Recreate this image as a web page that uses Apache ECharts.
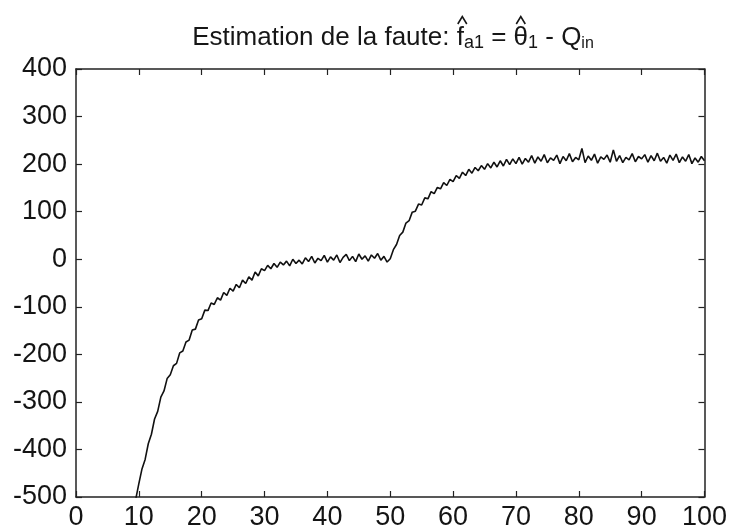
<!DOCTYPE html>
<html>
<head>
<meta charset="utf-8">
<script src="https://cdn.jsdelivr.net/npm/echarts@6/dist/echarts.min.js"></script>
<style>
  html, body { margin: 0; padding: 0; background: #ffffff; }
  #chart { width: 730px; height: 531px; }
</style>
</head>
<body>
<div id="chart"></div>
<script>
// ---- data ----
const xValues = [
  9.5,10,10.5,11,11.5,12,12.5,13,13.5,14,14.5,15,15.5,16,16.5,17,17.5,18,18.5,19,19.5,
  20,20.5,21,21.5,22,22.5,23,23.5,24,24.5,25,25.5,26,26.5,27,27.5,28,28.5,29,29.5,
  30,30.5,31,31.5,32,32.5,33,33.5,34,34.5,35,35.5,36,36.5,37,37.5,38,38.5,39,39.5,
  40,40.5,41,41.5,42,42.5,43,43.5,44,44.5,45,45.5,46,46.5,47,47.5,48,48.5,49,49.5,
  50,50.5,51,51.5,52,52.5,53,53.5,54,54.5,55,55.5,56,56.5,57,57.5,58,58.5,59,59.5,
  60,60.5,61,61.5,62,62.5,63,63.5,64,64.5,65,65.5,66,66.5,67,67.5,68,68.5,69,69.5,
  70,70.5,71,71.5,72,72.5,73,73.5,74,74.5,75,75.5,76,76.5,77,77.5,78,78.5,79,79.5,
  80,80.5,81,81.5,82,82.5,83,83.5,84,84.5,85,85.5,86,86.5,87,87.5,88,88.5,89,89.5,
  90,90.5,91,91.5,92,92.5,93,93.5,94,94.5,95,95.5,96,96.5,97,97.5,98,98.5,99,99.5,100
];
const faultEstimate = [
  -505,-472,-441,-421,-388,-368,-336,-320,-290,-277,-251,-243,-224,-219,-197,-193,-174,-170,-149,-147,-128,
  -125,-107,-108,-92,-95,-81,-86,-70,-76,-61,-67,-53,-60,-44,-51,-37,-44,-27,-35,-20,
  -24,-13,-20,-9,-17,-6,-12,-4,-14,0,-9,-2,-10,3,-5,6,-8,2,-3,8,
  -6,5,-2,9,-7,4,10,-3,6,-5,11,0,7,-4,9,2,12,-2,6,-6,
  1,20,31,50,57,76,81,99,101,116,114,129,127,142,138,151,148,161,155,168,
  163,176,170,183,176,189,181,193,186,197,189,201,192,204,194,207,196,210,199,211,
  201,214,200,212,204,218,202,215,206,220,203,213,208,219,201,216,207,222,205,214,
  209,233,203,217,208,221,202,215,210,219,204,230,206,218,203,214,209,222,205,216,
  211,220,204,218,207,223,206,214,202,219,208,221,203,215,206,220,201,213,204,216,207
];
const xTicks = { min: 0, max: 100, step: 10 };
const yTicks = { min: -500, max: 400, step: 100 };

// ---- title pieces (text) ----
const titlePieces = [
  { text: 'Estimation de la faute: ', size: 26 },
  { text: 'f', size: 26, hat: true },
  { text: 'a1', size: 18, sub: true },
  { text: ' = ', size: 26 },
  { text: 'θ', size: 26, hat: true },
  { text: '1', size: 18, sub: true },
  { text: ' - Q', size: 26 },
  { text: 'in', size: 16, sub: true }
];

const FONT = '"Liberation Sans", Arial, sans-serif';
const chart = echarts.init(document.getElementById('chart'), null, { renderer: 'canvas' });

// measure title pieces to lay them out in one line
const ctx = document.createElement('canvas').getContext('2d');
function w(p) { ctx.font = p.size + 'px ' + FONT; return ctx.measureText(p.text).width; }
const widths = titlePieces.map(w);
const total = widths.reduce((a, b) => a + b, 0);
const titleCenter = 393, baseline = 47;
let cx = titleCenter - total / 2;
const graphics = [];
titlePieces.forEach((p, i) => {
  const bl = p.sub ? baseline + 2 : baseline;
  graphics.push({
    type: 'text', silent: true,
    style: {
      text: p.text, x: cx, y: bl - 0.3465 * p.size,
      font: p.size + 'px ' + FONT, fill: '#161616',
      textAlign: 'left', textVerticalAlign: 'middle'
    }
  });
  if (p.hat) {
    const hc = cx + widths[i] / 2 + (p.text === 'f' ? 2 : 0);
    graphics.push({
      type: 'polyline', silent: true,
      shape: { points: [[hc - 4.5, 24], [hc, 16.5], [hc + 4.5, 24]] },
      style: { stroke: '#161616', lineWidth: 1.6, fill: null }
    });
  }
  cx += widths[i];
});

const axisLine = { show: true, onZero: false, lineStyle: { color: '#222', width: 1.5 } };
const tickIn = { show: true, inside: true, length: 6, lineStyle: { color: '#222', width: 1.2 } };
const labelStyle = { color: '#141414', fontSize: 27, fontFamily: FONT };

chart.setOption({
  animation: false,
  backgroundColor: '#ffffff',
  grid: { left: 76, right: 23, top: 69, bottom: 34, containLabel: false },
  xAxis: [
    { type: 'value', min: xTicks.min, max: xTicks.max, interval: xTicks.step, position: 'bottom',
      axisLine: axisLine, axisTick: tickIn, splitLine: { show: false },
      axisLabel: Object.assign({ margin: 7, showMinLabel: true, showMaxLabel: true }, labelStyle) },
    { type: 'value', min: xTicks.min, max: xTicks.max, interval: xTicks.step, position: 'top',
      axisLine: axisLine, axisTick: tickIn, splitLine: { show: false }, axisLabel: { show: false } }
  ],
  yAxis: [
    { type: 'value', min: yTicks.min, max: yTicks.max, interval: yTicks.step, position: 'left',
      axisLine: axisLine, axisTick: tickIn, splitLine: { show: false },
      axisLabel: Object.assign({ margin: 9, showMinLabel: true, showMaxLabel: true }, labelStyle) },
    { type: 'value', min: yTicks.min, max: yTicks.max, interval: yTicks.step, position: 'right',
      axisLine: axisLine, axisTick: tickIn, splitLine: { show: false }, axisLabel: { show: false } }
  ],
  graphic: graphics,
  series: [{
    type: 'line',
    xAxisIndex: 0, yAxisIndex: 0,
    data: xValues.map((x, i) => [x, faultEstimate[i]]),
    showSymbol: false,
    clip: true,
    lineStyle: { color: '#111', width: 1.6 }
  }]
});
</script>
</body>
</html>
